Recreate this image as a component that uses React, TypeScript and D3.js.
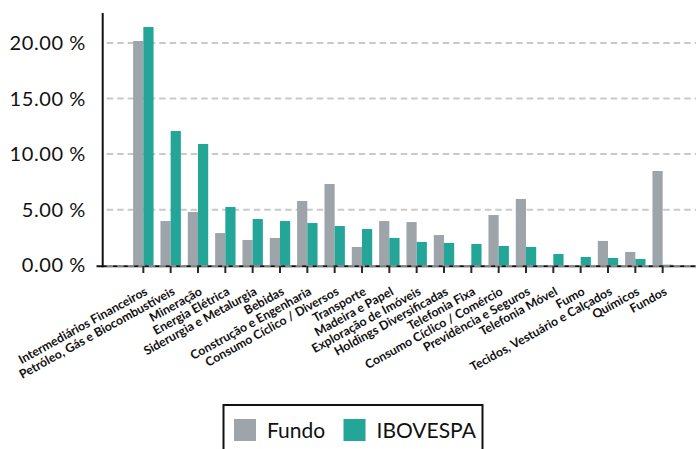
import * as d3 from 'd3';
import { useEffect, useRef } from 'react';

// Categories (sectors) as shown on the x axis
const categories = [
  'Intermediários Financeiros',
  'Petróleo, Gás e Biocombustíveis',
  'Mineração',
  'Energia Elétrica',
  'Siderurgia e Metalurgia',
  'Bebidas',
  'Construção e Engenharia',
  'Consumo Cíclico / Diversos',
  'Transporte',
  'Madeira e Papel',
  'Exploração de Imóveis',
  'Holdings Diversificadas',
  'Telefonia Fixa',
  'Consumo Cíclico / Comércio',
  'Previdência e Seguros',
  'Telefonia Móvel',
  'Fumo',
  'Tecidos, Vestuário e Calçados',
  'Químicos',
  'Fundos',
];

// Weights in %
const fundo = [20.17, 3.98, 4.79, 2.9, 2.28, 2.46, 5.78, 7.31, 1.65, 3.98, 3.89, 2.72, 0, 4.52, 5.96, 0, 0, 2.19, 1.2, 8.48];
const ibovespa = [21.43, 12.08, 10.91, 5.24, 4.16, 3.98, 3.8, 3.53, 3.26, 2.46, 2.1, 2.01, 1.92, 1.74, 1.65, 1.02, 0.75, 0.66, 0.57, 0.05];

const series = ['Fundo', 'IBOVESPA'];
const yTicks = [0, 5, 10, 15, 20];

const colors = { Fundo: '#9da4aa', IBOVESPA: '#23a598' };

export default function App() {
  const svgRef = useRef(null);

  const width = 696;
  const height = 449;

  useEffect(() => {
    const svg = d3.select(svgRef.current);
    svg.selectAll('*').remove();

    const axisX = 102.7;
    const axisTop = 13;

    // scales
    const x = d3.scaleBand().domain(categories).range([129.67, 676.33]).padding(0);
    const xs = d3.scaleBand().domain(series).range([-10.2, 10.2]).padding(0);
    const y = d3.scaleLinear().domain([0, 20]).range([265.3, 42.9]);
    const cx = (c) => x(c) + x.bandwidth() / 2;

    // gridlines
    svg
      .append('g')
      .selectAll('line')
      .data(yTicks.filter((t) => t > 0))
      .enter()
      .append('line')
      .attr('x1', axisX + 4)
      .attr('x2', width)
      .attr('y1', (d) => y(d))
      .attr('y2', (d) => y(d))
      .attr('stroke', '#c9c9c9')
      .attr('stroke-width', 2)
      .attr('stroke-dasharray', '6.5 4');

    // y tick labels
    svg
      .append('g')
      .selectAll('text')
      .data(yTicks)
      .enter()
      .append('text')
      .attr('x', 86)
      .attr('y', (d) => y(d))
      .attr('dy', '0.35em')
      .attr('text-anchor', 'end')
      .style('font-family', 'Lato')
      .style('font-size', '20px')
      .style('letter-spacing', '0.6px')
      .attr('fill', '#111')
      .text((d) => d3.format('.2f')(d) + ' %');

    // bars
    const rows = categories.map((c, i) => ({ c, Fundo: fundo[i], IBOVESPA: ibovespa[i] }));
    const groups = svg
      .append('g')
      .selectAll('g')
      .data(rows)
      .enter()
      .append('g')
      .attr('transform', (d) => `translate(${cx(d.c)},0)`);
    groups
      .selectAll('rect')
      .data((d) => series.map((s) => ({ s, v: d[s] })))
      .enter()
      .append('rect')
      .attr('x', (d) => xs(d.s))
      .attr('width', xs.bandwidth())
      .attr('y', (d) => y(d.v))
      .attr('height', (d) => y(0) - y(d.v))
      .attr('fill', (d) => colors[d.s]);

    // x axis line (black with the zero gridline dashed on top)
    svg
      .append('line')
      .attr('x1', 96.5)
      .attr('x2', width)
      .attr('y1', 266.3)
      .attr('y2', 266.3)
      .attr('stroke', '#111')
      .attr('stroke-width', 2);
    svg
      .append('line')
      .attr('x1', axisX + 4)
      .attr('x2', width)
      .attr('y1', 266)
      .attr('y2', 266)
      .attr('stroke', '#a5a5a5')
      .attr('stroke-width', 1.5)
      .attr('stroke-dasharray', '6.5 4');

    // x ticks
    svg
      .append('g')
      .selectAll('line')
      .data(categories)
      .enter()
      .append('line')
      .attr('x1', (d) => cx(d))
      .attr('x2', (d) => cx(d))
      .attr('y1', 266)
      .attr('y2', 273)
      .attr('stroke', '#2a2a2a')
      .attr('stroke-width', 2);

    // y axis line
    svg
      .append('line')
      .attr('x1', axisX)
      .attr('x2', axisX)
      .attr('y1', axisTop)
      .attr('y2', 267.3)
      .attr('stroke', '#111')
      .attr('stroke-width', 2);

    // category labels, rotated
    svg
      .append('g')
      .selectAll('text')
      .data(categories)
      .enter()
      .append('text')
      .attr('transform', (d) => `translate(${cx(d) + 5},${294}) rotate(-29)`)
      .attr('text-anchor', 'end')
      .style('font-family', 'Lato')
      .style('font-weight', 700)
      .style('font-size', '12.3px')
      .attr('fill', '#111')
      .text((d) => d);

    // legend
    const legend = svg.append('g');
    legend
      .append('rect')
      .attr('x', 223.5)
      .attr('y', 405)
      .attr('width', 259)
      .attr('height', 52)
      .attr('fill', 'white')
      .attr('stroke', '#111')
      .attr('stroke-width', 2);
    const items = [
      { s: 'Fundo', x: 234 },
      { s: 'IBOVESPA', x: 343.5 },
    ];
    items.forEach((it) => {
      legend
        .append('rect')
        .attr('x', it.x)
        .attr('y', 419)
        .attr('width', 22)
        .attr('height', 22)
        .attr('fill', colors[it.s]);
      legend
        .append('text')
        .attr('x', it.x + 33)
        .attr('y', 430)
        .attr('dy', '0.36em')
        .style('font-family', 'Lato')
        .style('font-size', '21px')
        .attr('fill', '#111')
        .text(it.s);
    });
  }, []);

  return (
    <svg
      ref={svgRef}
      width={width}
      height={height}
      style={{ position: 'absolute', left: 0, top: 0, background: 'white' }}
    />
  );
}
